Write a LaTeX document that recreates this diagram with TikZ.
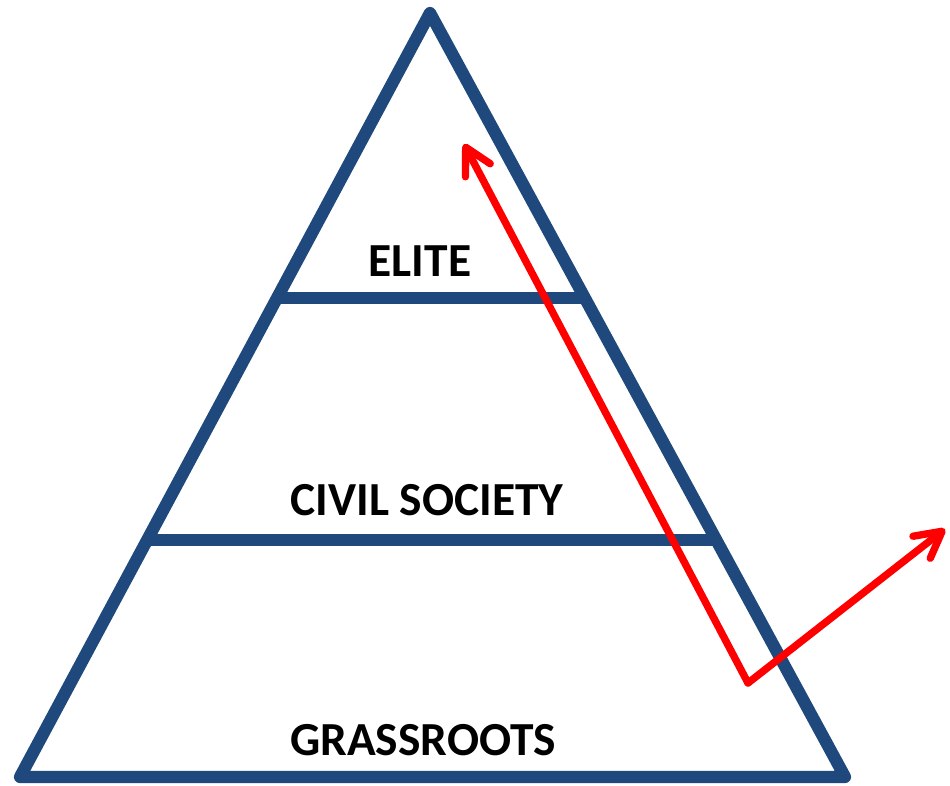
\documentclass[tikz,border=0pt]{standalone}
\usepackage{fontspec}
\setmainfont{Carlito}
\usetikzlibrary{arrows.meta}
\definecolor{pyrblue}{RGB}{31,73,125}
\tikzset{
  level/.style={font=\bfseries\fontsize{27}{32}\selectfont, inner sep=0pt},
  pyr/.style={draw=pyrblue, line width=7pt, line join=round, line cap=round},
  flow/.style={draw=red, line width=4.2pt, line cap=round,
    -{Straight Barb[length=0.52cm, width=0.56cm, round]}}
}
\begin{document}
\begin{tikzpicture}[x=0.02cm, y=-0.02cm]
				\useasboundingbox (0,0) rectangle (950,786);
				
				% pyramid
				\coordinate (top) at (430,13);
				\coordinate (bl) at (20,777);
				\coordinate (br) at (845,777);
				\draw[pyr] (top) -- (bl) -- (br) -- cycle;
				\draw[pyr] (278,298) -- (584,298);
				\draw[pyr] (149,540) -- (715,540);
				
				% levels
				\node[level] (elite) at (420,261) {ELITE};
				\node[level] (civil) at (427,500) {CIVIL SOCIETY};
				\node[level] (grass) at (423,740) {GRASSROOTS};
				
				% red arrows
				\coordinate (turn) at (748,683);
				\coordinate (up) at (464,144);
				\coordinate (out) at (945,529);
				\draw[flow] (turn) -- (up);
				\draw[flow] (turn) -- (out);
			\end{tikzpicture}
\end{document}
